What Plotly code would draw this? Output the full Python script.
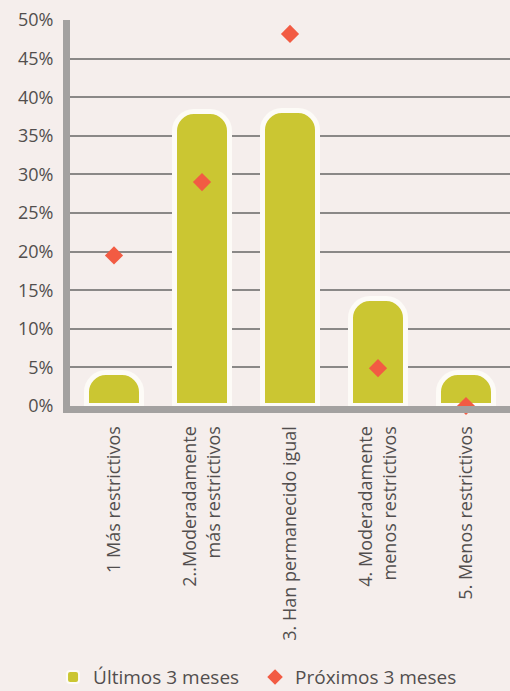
import plotly.graph_objects as go

# Categories (x axis) and the two series, in percent
categorias = [
    "1 Más restrictivos",
    "2..Moderadamente<br>más restrictivos",
    "3. Han permanecido igual",
    "4. Moderadamente<br>menos restrictivos",
    "5. Menos restrictivos",
]
ultimos_3_meses = [4.3, 38.1, 38.2, 13.8, 4.3]
proximos_3_meses = [19.5, 29.0, 48.2, 4.9, 0.0]
y_ticks = [0, 5, 10, 15, 20, 25, 30, 35, 40, 45, 50]
y_tick_text = [f"{v}%" for v in y_ticks]

PAPER = "#f5eeec"
OLIVE = "#cbc632"
CORAL = "#f25b43"
AXIS_GREY = "#a3a1a0"
GRID_GREY = "#8a8887"
TEXT = "#524e4e"
FONT = "Open Sans"

fig = go.Figure()

fig.add_trace(go.Bar(
    x=list(range(len(categorias))),
    y=ultimos_3_meses,
    name="Últimos 3 meses",
    width=0.625,
    marker=dict(color=OLIVE, line=dict(color="#fdfbf7", width=5), cornerradius=20),
))

fig.add_trace(go.Scatter(
    x=list(range(len(categorias))),
    y=proximos_3_meses,
    name="Próximos 3 meses",
    mode="markers",
    marker=dict(symbol="diamond", size=14, color=CORAL),
    cliponaxis=False,
))

fig.update_layout(
    width=510,
    height=691,
    margin=dict(l=70, r=0, t=20, b=285),
    paper_bgcolor=PAPER,
    plot_bgcolor=PAPER,
    font=dict(family=FONT, color=TEXT, size=18),
    bargap=0,
    showlegend=True,
    legend=dict(
        orientation="h",
        xref="container", yref="container",
        x=0.104, y=0.02, xanchor="left", yanchor="middle",
        entrywidth=157,
        font=dict(size=19, color=TEXT),
        bgcolor="rgba(0,0,0,0)",
        itemsizing="constant",
    ),
)

fig.update_xaxes(
    range=[-0.5, 4.5],
    tickmode="array",
    tickvals=list(range(len(categorias))),
    ticktext=categorias,
    tickangle=-90,
    showgrid=False,
    zeroline=False,
    showline=True,
    linecolor=AXIS_GREY,
    linewidth=7,
    ticks="",
    ticklabelstandoff=6,
    tickfont=dict(size=18, color=TEXT),
)

fig.update_yaxes(
    range=[0, 50],
    tickmode="array",
    tickvals=y_ticks,
    ticktext=y_tick_text,
    showgrid=True,
    gridcolor=GRID_GREY,
    gridwidth=1.5,
    zeroline=False,
    showline=True,
    linecolor=AXIS_GREY,
    linewidth=7,
    ticks="",
    ticklabelstandoff=6,
    tickfont=dict(size=18, color=TEXT),
)

fig.write_html("out.html")
